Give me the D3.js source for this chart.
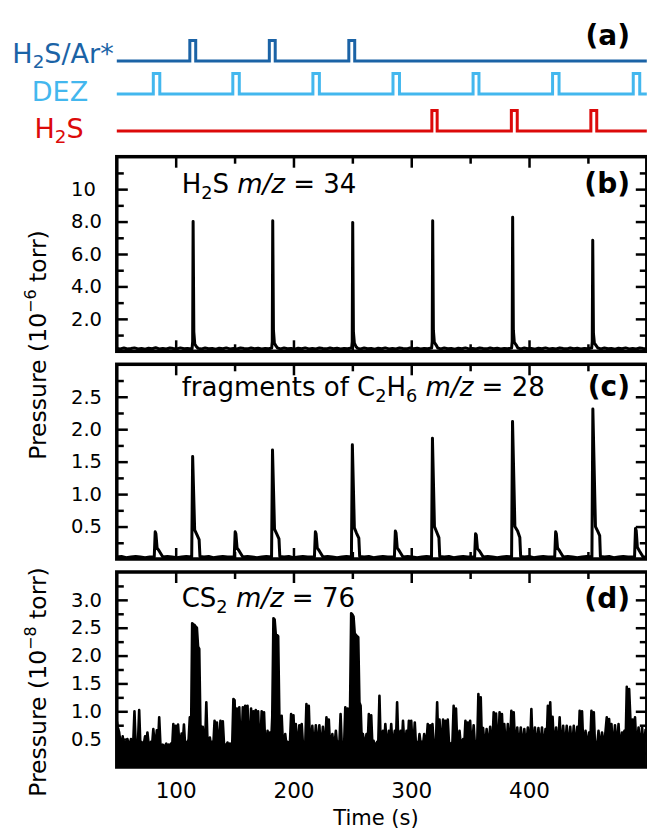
<!DOCTYPE html>
<html>
<head>
<meta charset="utf-8">
<script src="https://cdn.jsdelivr.net/npm/d3@7"></script>
<style>
  body { margin: 0; background: #fff; }
  text { font-family: "DejaVu Sans", sans-serif; white-space: pre; }
</style>
</head>
<body>
<svg id="chart" width="647" height="831"></svg>
<script>
// ---- data ----
const timeDomain = [50, 500];
const xMajor = [100, 200, 300, 400];
const xMinor = [150, 250, 350, 450];

// (a) valve pulses, [open, close] in s
const h2sArPulses = [[112, 117], [179.5, 184.5], [247, 252]];
const dezPulses = [[81, 86.5], [148.5, 154], [216.5, 222], [284.5, 290], [352.5, 357.5], [420, 425.5], [488.5, 494]];
const h2sPulses = [[317.5, 322], [385, 390], [452.5, 457.5]];

// (b) H2S m/z = 34, [time, 1e-6 torr]
const h2sSignal = [
  [50,.18],[53,.15],[56,.2],[59,.14],[62,.17],[65,.21],[68,.15],[71,.18],[74,.13],[77,.19],[80,.16],[83,.22],[86,.15],[89,.18],[92,.14],[95,.2],[98,.17],[101,.15],[104,.21],[107,.16],[110,.18],[113.9,.15],
  [114.4,.6],[114.8,8.0],[115.4,1.2],[116.2,.45],[117.5,.3],[119,.18],
  [122,.15],[125,.2],[128,.16],[131,.18],[134,.13],[137,.19],[140,.16],[143,.21],[146,.15],[149,.18],[152,.14],[155,.2],[158,.17],[161,.15],[164,.2],[167,.16],[170,.19],[173,.14],[176,.18],[179,.16],[181.5,.2],
  [182,.6],[182.4,8.05],[183,1.3],[183.8,.5],[185,.35],[186.5,.2],
  [189,.15],[192,.2],[195,.16],[198,.18],[201,.13],[204,.19],[207,.16],[210,.21],[213,.15],[216,.18],[219,.14],[222,.2],[225,.17],[228,.15],[231,.2],[234,.16],[237,.19],[240,.14],[243,.18],[246,.16],[249.4,.2],
  [249.9,.6],[250.3,7.95],[250.9,1.2],[251.7,.5],[253,.3],[254.5,.18],
  [257,.15],[260,.2],[263,.16],[266,.18],[269,.13],[272,.19],[275,.16],[278,.21],[281,.15],[284,.18],[287,.14],[290,.2],[293,.17],[296,.15],[299,.2],[302,.16],[305,.19],[308,.14],[311,.18],[314,.16],[317.3,.2],
  [317.8,.6],[318.2,8.05],[318.8,1.3],[319.6,.55],[321,.4],[322.5,.2],
  [325,.15],[328,.2],[331,.16],[334,.18],[337,.13],[340,.19],[343,.16],[346,.21],[349,.15],[352,.18],[355,.14],[358,.2],[361,.17],[364,.15],[367,.2],[370,.16],[373,.19],[376,.14],[379,.18],[382,.16],[385.2,.2],
  [385.7,.6],[386.1,8.27],[386.7,1.3],[387.5,.55],[389,.4],[390.5,.2],
  [393,.15],[396,.2],[399,.16],[402,.18],[405,.13],[408,.19],[411,.16],[414,.21],[417,.15],[420,.18],[423,.14],[426,.2],[429,.17],[432,.15],[435,.2],[438,.16],[441,.19],[444,.14],[447,.18],[450,.16],[453.2,.2],
  [453.7,.6],[454.1,6.85],[454.7,1.1],[455.5,.5],[457,.35],[458.5,.2],
  [461,.15],[464,.2],[467,.16],[470,.18],[473,.13],[476,.19],[479,.16],[482,.21],[485,.15],[488,.18],[491,.14],[494,.2],[497,.17],[500,.15]
];

// (c) fragments of C2H6 m/z = 28, [time, 1e-6 torr]
const c2h6Signal = [
  [50,.03],[54,.04],[58,.02],[62,.03],[66,.04],[70,.03],[74,.02],[78,.03],[81.8,.03],
  [82.6,.42],[83.2,.39],[84.2,.17],[86.1,.12],[89.1,.03],
  [93,.04],[97,.03],[101,.02],[105,.03],[109,.04],[113.6,.03],
  [114.4,1.58],[116.1,.45],[117.9,.38],[119.9,.3],[120.6,.04],
  [124,.03],[128,.04],[132,.02],[136,.03],[140,.04],[144,.03],[149.7,.03],
  [150.5,.42],[151.1,.39],[152.1,.17],[154,.12],[157,.03],
  [161,.04],[165,.03],[169,.02],[173,.03],[177,.04],[181.4,.03],
  [182.2,1.68],[183.9,.46],[185.7,.39],[187.7,.31],[188.4,.04],
  [192,.03],[196,.04],[200,.02],[204,.03],[208,.04],[212,.03],[217.8,.03],
  [218.6,.42],[219.2,.39],[220.2,.17],[222.1,.12],[225.1,.03],
  [229,.04],[233,.03],[237,.02],[241,.03],[245,.04],[249.2,.03],
  [250,1.76],[251.7,.48],[253.5,.4],[255.5,.32],[256.2,.04],
  [260,.03],[264,.04],[268,.02],[272,.03],[276,.04],[280,.03],[285.7,.03],
  [286.5,.43],[287.1,.4],[288.1,.17],[290,.12],[293,.03],
  [297,.04],[301,.03],[305,.02],[309,.03],[313,.04],[317.2,.03],
  [318,1.86],[319.7,.5],[321.5,.42],[323.5,.33],[324.2,.04],
  [328,.03],[332,.04],[336,.02],[340,.03],[344,.04],[348,.03],[353.8,.03],
  [354.6,.39],[355.2,.37],[356.2,.16],[358.1,.12],[361.1,.03],
  [365,.04],[369,.03],[373,.02],[377,.03],[381,.04],[385.2,.03],
  [386,2.12],[388,.5],[390.3,.43],[392.2,.33],[392.9,.04],
  [396,.03],[400,.04],[404,.02],[408,.03],[412,.04],[416,.03],[421.8,.03],
  [422.6,.42],[423.2,.39],[424.2,.17],[426.1,.12],[429.1,.03],
  [433,.04],[437,.03],[441,.02],[445,.03],[449,.04],[453.4,.03],
  [454.2,2.31],[456.4,.5],[458.3,.43],[460,.36],[460.6,.04],
  [464,.03],[468,.04],[472,.02],[476,.03],[480,.04],[484,.03],[489.6,.03],
  [490.4,.47],[491,.44],[492,.18],[493.9,.12],[496.9,.03],
  [500,.03]
];

// (d) CS2 m/z = 76, one reading per second from t = 50 s, 1e-8 torr
const cs2Start = 50;
const cs2Values = [
  .82,.7,.62,.45,.4,.55,.38,.45,.4,.5,
  .42,.38,.5,.4,.45,1.0,.42,.4,.45,1.02,
  .4,.45,.38,.42,.55,.4,.62,.42,.38,.45,
  .4,.68,.45,.4,.66,.4,.89,.42,.38,.4,
  .36,.38,.42,.35,.4,.38,.42,.36,.77,.45,
  .74,.4,.76,.45,.4,.6,.42,.76,.4,.45,
  .42,.5,.89,.45,2.58,2.56,2.55,2.52,2.5,2.16,
  2.12,.75,.45,.72,.4,.42,1.16,.45,.4,.53,
  .38,.45,.4,.83,.42,.8,.45,.4,.83,.45,
  .82,.42,.4,.38,.44,.36,.42,.38,.4,1.22,
  1.2,.45,1.05,.42,1.07,.4,.45,1.07,.42,1.1,
  .45,1.1,.42,.45,1.05,.4,1.0,.45,1.02,.42,
  1.0,.4,.45,1.0,.42,.98,.4,.38,.65,.42,
  .62,.4,.9,2.67,2.65,2.37,2.37,2.35,.95,.45,
  .92,.42,.45,.59,.4,.45,.38,.42,.95,.45,
  .93,.4,.77,.42,.45,.75,.4,.77,.42,.45,
  .4,1.13,.45,1.1,.42,.45,.74,.4,.45,.75,
  .42,.45,.75,.4,.45,.72,.4,.42,.89,.45,
  .85,.4,.45,.59,.38,.42,.65,.4,.45,.42,
  .95,.4,.45,.38,1.07,.45,1.05,.4,.95,2.76,
  2.74,2.7,2.4,2.37,2.35,2.33,1.16,1.1,.45,.59,
  .4,.45,.59,.4,.95,.42,.93,.4,.47,.38,
  .4,.45,.42,1.28,.45,.4,.65,.42,.77,.45,
  .4,.65,.42,.77,.4,.45,.65,.42,1.16,.45,
  .42,.65,.4,.83,.45,.42,.65,.4,.83,.45,
  .83,.42,.45,.8,.4,.45,.38,.59,.42,.45,
  .4,.59,.42,.45,.77,.4,.75,.42,.77,.45,
  .42,.45,1.16,.4,.85,.45,.42,.85,.4,.83,
  .42,.85,.45,.4,.42,.45,1.1,.4,1.05,.45,
  .42,.65,.4,.45,.5,.38,.83,.42,.8,.45,
  .83,.4,.45,.75,.42,.45,.4,1.31,.45,1.25,
  .42,.7,.45,.4,.68,.42,.45,.72,.4,.45,
  .98,.42,.96,.45,.4,.98,.45,.95,.42,.77,
  .45,.4,.77,.42,.45,1.01,.4,.98,.45,.42,
  .71,.4,.45,.71,.42,.45,.68,.4,.45,.71,
  .42,.45,1.04,.4,.45,.71,.42,.45,.7,.4,
  .45,.71,.42,.4,.68,.45,1.1,.42,1.16,.45,
  .9,.42,.45,.71,.4,.45,.89,.42,.45,.74,
  .4,.45,.74,.42,.45,.72,.4,.45,.74,.42,
  .45,.72,.4,1.01,.45,1.0,.42,.45,.65,.4,
  .45,.62,.42,1.01,.45,.98,.4,.45,.42,.65,
  .4,.45,.62,.42,.45,.65,.89,.42,.86,.45,
  .77,.4,.45,.75,.42,.45,.77,.4,.45,.62,
  .42,.65,.4,1.44,.45,1.4,.89,.42,.85,.45,
  .89,.42,.45,.71,.4,.45,.71,.42,.45,.68
];

// y ticks
const bYMajor = [2, 4, 6, 8, 10];
const bYLabels = ["2.0", "4.0", "6.0", "8.0", "10"];
const bYMinor = [1, 3, 5, 7, 9, 11];
const cYMajor = [0.5, 1, 1.5, 2, 2.5];
const cYLabels = ["0.5", "1.0", "1.5", "2.0", "2.5"];
const cYMinor = [0.25, 0.75, 1.25, 1.75, 2.25, 2.75];
const dYMajor = [0.5, 1, 1.5, 2, 2.5, 3];
const dYLabels = ["0.5", "1.0", "1.5", "2.0", "2.5", "3.0"];
const dYMinor = [0.25, 0.75, 1.25, 1.75, 2.25, 2.75, 3.25];

// ---- drawing ----
const svg = d3.select("#chart");
const x = d3.scaleLinear().domain(timeDomain).range([116.8, 646.8]);

function addRich(sel, parts, size) {
  let shift = 0;
  parts.forEach(([s, kind]) => {
    const target = kind === "sub" ? size * 0.22 : kind === "sup" ? -size * 0.42 : 0;
    const t = sel.append("tspan").text(s).attr("dy", target - shift);
    shift = target;
    if (kind === "sub" || kind === "sup") t.attr("font-size", size * 0.68);
    if (kind === "it") t.attr("font-style", "italic");
  });
}

// (a) valve sequence
const channels = [
  { pulses: h2sArPulses, color: "#1b63a6", base: 61, label: [["H"], ["2", "sub"], ["S/Ar*"]], lx: 63, ly: 62.5 },
  { pulses: dezPulses, color: "#43b7ee", base: 94, label: [["DEZ"]], lx: 60, ly: 101 },
  { pulses: h2sPulses, color: "#dc0a0a", base: 131, label: [["H"], ["2", "sub"], ["S"]], lx: 59, ly: 137.5 }
];
const pulseHeight = 20.5;
channels.forEach(ch => {
  const pts = [[timeDomain[0], 0]];
  ch.pulses.forEach(([on, off]) => pts.push([on, 0], [on, 1], [off, 1], [off, 0]));
  pts.push([timeDomain[1], 0]);
  svg.append("path")
    .datum(pts)
    .attr("fill", "none")
    .attr("stroke", ch.color)
    .attr("stroke-width", 3)
    .attr("d", d3.line().x(d => x(d[0])).y(d => ch.base - d[1] * pulseHeight));
  const t = svg.append("text")
    .attr("x", ch.lx).attr("y", ch.ly)
    .attr("text-anchor", "middle")
    .attr("font-size", 27)
    .attr("fill", ch.color);
  addRich(t, ch.label, 27);
});
svg.append("text").attr("x", 630).attr("y", 45)
  .attr("text-anchor", "end").attr("font-size", 28).attr("font-weight", "bold")
  .text("(a)");

// (b)-(d) panels
const panels = [
  { id: "b", top: 156.7, bottom: 351.3, yMax: 12, data: h2sSignal, major: bYMajor, labels: bYLabels, minor: bYMinor,
    lw: 3, fill: false, tag: "(b)", tagY: 193,
    note: [["H"], ["2", "sub"], ["S "], ["m/z", "it"], [" = 34"]], noteY: 193 },
  { id: "c", top: 364.3, bottom: 559, yMax: 3, data: c2h6Signal, major: cYMajor, labels: cYLabels, minor: cYMinor,
    lw: 3, fill: false, tag: "(c)", tagY: 396,
    note: [["fragments of C"], ["2", "sub"], ["H"], ["6", "sub"], [" "], ["m/z", "it"], [" = 28"]], noteY: 396 },
  { id: "d", top: 572, bottom: 767, yMax: 3.5, data: cs2Values.map((v, i) => [cs2Start + i, v]),
    major: dYMajor, labels: dYLabels, minor: dYMinor,
    lw: 2.6, fill: true, tag: "(d)", tagY: 608,
    note: [["CS"], ["2", "sub"], [" "], ["m/z", "it"], [" = 76"]], noteY: 607 }
];

panels.forEach((p, pi) => {
  const y = d3.scaleLinear().domain([0, p.yMax]).range([p.bottom, p.top]);
  const clipId = "clip-" + p.id;
  svg.append("clipPath").attr("id", clipId)
    .append("rect")
    .attr("x", x(timeDomain[0])).attr("y", p.top)
    .attr("width", x(timeDomain[1]) - x(timeDomain[0]))
    .attr("height", p.bottom - p.top);
  const plot = svg.append("g").attr("clip-path", `url(#${clipId})`);

  if (p.fill) {
    plot.append("path").datum(p.data)
      .attr("fill", "#000")
      .attr("d", d3.area().x(d => x(d[0])).y0(y(0)).y1(d => y(d[1])));
  }
  plot.append("path").datum(p.data)
    .attr("fill", "none")
    .attr("stroke", "#000")
    .attr("stroke-width", p.lw)
    .attr("stroke-linejoin", "round")
    .attr("d", d3.line().x(d => x(d[0])).y(d => y(d[1])));

  // inward ticks on all four sides
  const tickSets = [
    [d3.axisLeft(y).tickValues(p.major).tickSize(-11), `translate(${x(timeDomain[0])},0)`],
    [d3.axisLeft(y).tickValues(p.minor).tickSize(-7), `translate(${x(timeDomain[0])},0)`],
    [d3.axisRight(y).tickValues(p.major).tickSize(-11), `translate(${x(timeDomain[1])},0)`],
    [d3.axisRight(y).tickValues(p.minor).tickSize(-7), `translate(${x(timeDomain[1])},0)`],
    [d3.axisTop(x).tickValues(xMajor).tickSize(-11), `translate(0,${p.top})`],
    [d3.axisTop(x).tickValues(xMinor).tickSize(-7), `translate(0,${p.top})`],
    [d3.axisBottom(x).tickValues(xMajor).tickSize(-11), `translate(0,${p.bottom})`],
    [d3.axisBottom(x).tickValues(xMinor).tickSize(-7), `translate(0,${p.bottom})`]
  ];
  tickSets.forEach(([axis, tr]) => {
    const g = svg.append("g").attr("transform", tr).call(axis);
    g.select(".domain").remove();
    g.selectAll(".tick line").attr("stroke", "#000").attr("stroke-width", 2.5);
    g.selectAll(".tick text").remove();
  });

  // y tick labels
  const yl = svg.append("g")
    .attr("transform", `translate(${x(timeDomain[0])},0)`)
    .call(d3.axisLeft(y).tickValues(p.major).tickSize(0).tickFormat((d, i) => p.labels[i]));
  yl.select(".domain").remove();
  yl.selectAll("text")
    .attr("text-anchor", "start")
    .attr("x", 71 - x(timeDomain[0]))
    .attr("font-size", 19.5)
    .attr("font-family", "DejaVu Sans")
    .attr("fill", "#000");

  // frame
  svg.append("rect")
    .attr("x", x(timeDomain[0])).attr("y", p.top)
    .attr("width", x(timeDomain[1]) - x(timeDomain[0]))
    .attr("height", p.bottom - p.top)
    .attr("fill", "none").attr("stroke", "#000").attr("stroke-width", 3.5);

  const note = svg.append("text").attr("x", 181.7).attr("y", p.noteY).attr("font-size", 26);
  addRich(note, p.note, 26);

  svg.append("text").attr("x", 630).attr("y", p.tagY)
    .attr("text-anchor", "end").attr("font-size", 28).attr("font-weight", "bold")
    .text(p.tag);

  if (pi === panels.length - 1) {
    const xl = svg.append("g")
      .attr("transform", `translate(0,${p.bottom})`)
      .call(d3.axisBottom(x).tickValues(xMajor).tickSize(0).tickPadding(16).tickFormat(d3.format("d")));
    xl.select(".domain").remove();
    xl.selectAll("text").attr("font-size", 21.5).attr("font-family", "DejaVu Sans").attr("fill", "#000");
  }
});

// axis titles
svg.append("text")
  .attr("x", 376).attr("y", 825)
  .attr("text-anchor", "middle").attr("font-size", 21)
  .text("Time (s)");

const yTitles = [
  { cy: 345, exp: "\u22126" },
  { cy: 682, exp: "\u22128" }
];
yTitles.forEach(t => {
  const el = svg.append("text")
    .attr("transform", `translate(46,${t.cy}) rotate(-90)`)
    .attr("text-anchor", "middle")
    .attr("font-size", 23.5);
  addRich(el, [["Pressure (10"], [t.exp, "sup"], [" torr)"]], 23.5);
});
</script>
</body>
</html>
